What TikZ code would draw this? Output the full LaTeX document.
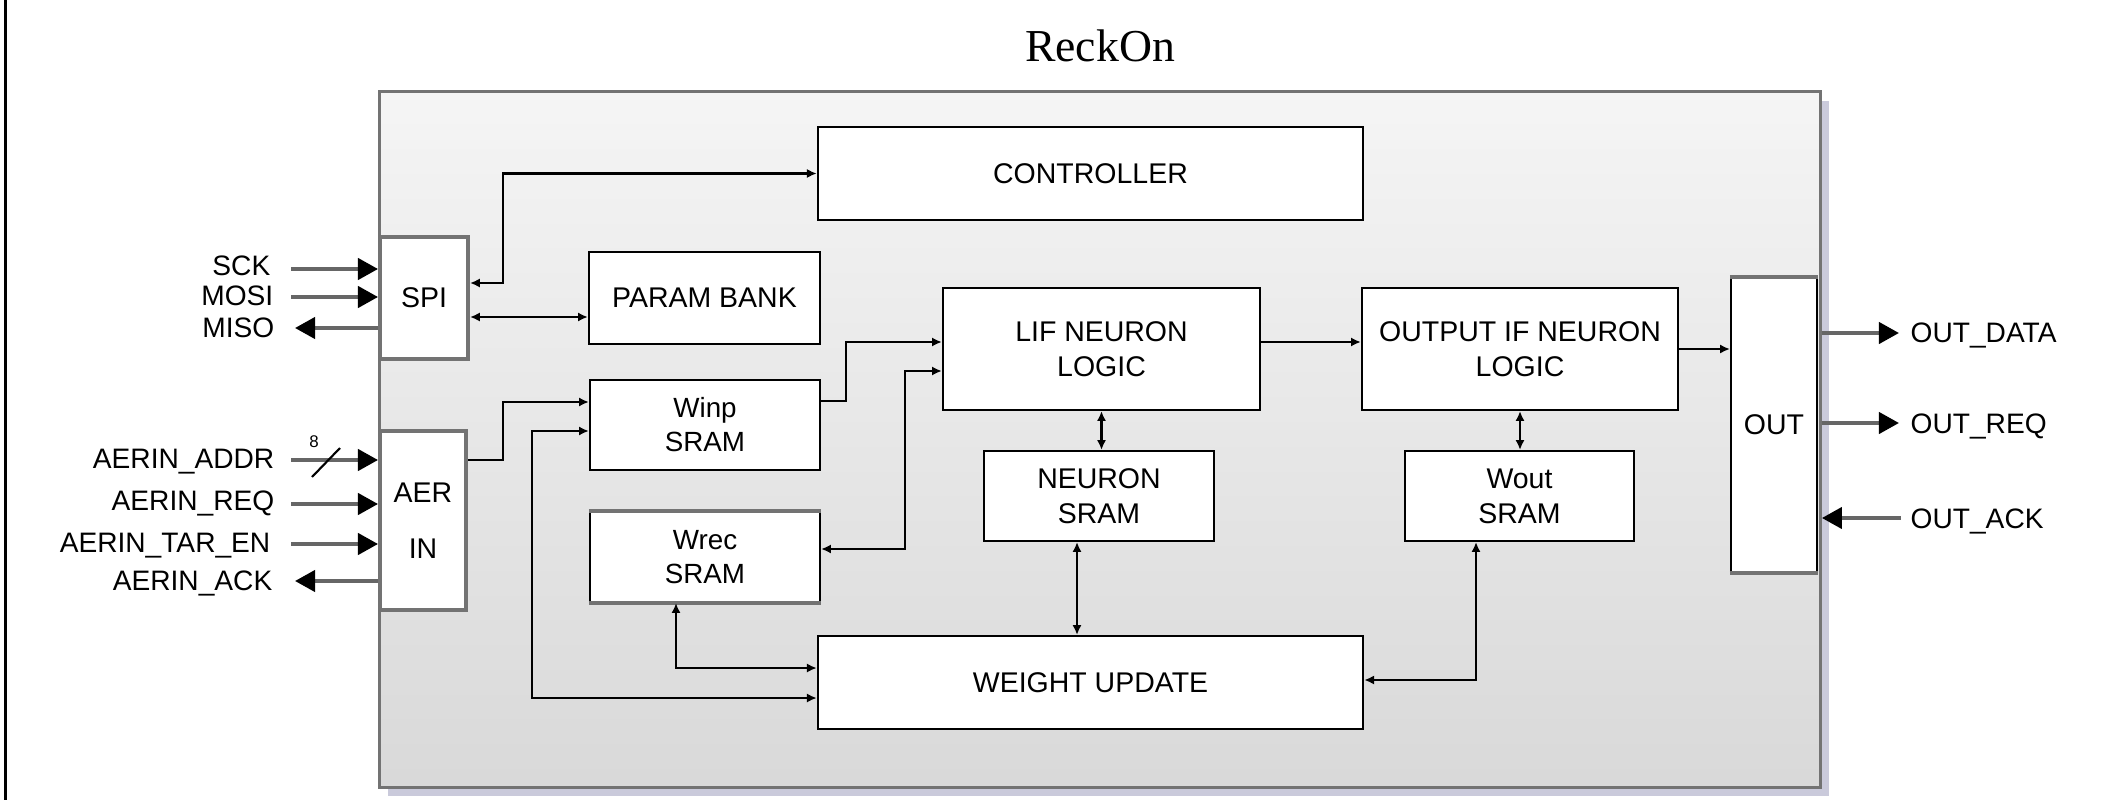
\documentclass[tikz,border=0pt]{standalone}
\usepackage{fontspec}
\setmainfont{Liberation Sans}
\newfontfamily\titlefont{Liberation Serif}
\usetikzlibrary{arrows.meta, positioning, calc, shadows}

\begin{document}
\begin{tikzpicture}[x=0.01cm, y=-0.01cm,
    chip/.style={draw=black!55, line width=0.85pt, top color=black!4, bottom color=black!15,
        drop shadow={shadow xshift=2.5pt, shadow yshift=-2.5pt, opacity=0.35, fill=gray!80!blue}},
    block/.style={draw=black, line width=0.6pt, fill=white, align=center, inner sep=0pt,
        font=\fontsize{8.1}{10}\selectfont},
    memblock/.style={block, font=\fontsize{7.9}{9.7}\selectfont},
    port/.style={draw=black!55, line width=1.1pt, fill=white, align=center, inner sep=0pt,
        font=\fontsize{8.1}{16}\selectfont},
    rim/.style={draw=black!55, line width=1pt},
    link/.style={line width=0.6pt, {Latex[length=2.8pt,width=2.6pt]}-{Latex[length=2.8pt,width=2.6pt]}},
    wire/.style={line width=0.6pt, -{Latex[length=2.8pt,width=2.6pt]}},
    pin/.style={draw=black!60, line width=1.1pt, -{Triangle[length=5.7pt,width=6pt,color=black]}},
    sig/.style={inner sep=0pt, font=\fontsize{8}{10}\selectfont},
]
    \useasboundingbox (0,0) rectangle (2111,800);
    \draw[line width=0.9pt] (5.5,0) -- (5.5,800);

    % chip outline and title
    \node[chip, minimum width=14.4cm, minimum height=6.95cm] (chip) at (1100,439.5) {};
    \node[font=\titlefont\fontsize{13}{15}\selectfont] (title) at (1100,46) {ReckOn};

    % interface blocks
    \node[port, minimum width=0.88cm, minimum height=1.22cm] (spi) at (424,298) {SPI};
    \node[port, minimum width=0.86cm, minimum height=1.79cm] (aer) at (423,520.5) {AER\\IN};
    \node[block, minimum width=0.86cm, minimum height=2.94cm] (out) at (1774,425) {OUT};
    \draw[rim] (out.north west) -- (out.north east);
    \draw[rim] (out.south west) -- (out.south east);

    % core blocks
    \node[block, minimum width=5.45cm, minimum height=0.93cm] (ctrl) at (1090.5,173.5) {CONTROLLER};
    \node[block, minimum width=2.31cm, minimum height=0.92cm] (param) at (704.5,298) {PARAM BANK};
    \node[memblock, minimum width=2.3cm, minimum height=0.9cm] (winp) at (705,425) {Winp\\SRAM};
    \node[memblock, minimum width=2.3cm, minimum height=0.9cm] (wrec) at (705,557) {Wrec\\SRAM};
    \draw[rim] (wrec.north west) -- (wrec.north east);
    \draw[rim] (wrec.south west) -- (wrec.south east);
    \node[block, minimum width=3.17cm, minimum height=1.22cm] (lif) at (1101.5,349) {LIF NEURON\\LOGIC};
    \node[block, minimum width=2.3cm, minimum height=0.9cm] (nsram) at (1099,496) {NEURON\\SRAM};
    \node[block, minimum width=3.16cm, minimum height=1.22cm] (outif) at (1520,349) {OUTPUT IF NEURON\\LOGIC};
    \node[block, minimum width=2.29cm, minimum height=0.9cm] (wout) at (1519.5,496) {Wout\\SRAM};
    \node[block, minimum width=5.45cm, minimum height=0.93cm] (wu) at (1090.5,682.5) {WEIGHT UPDATE};

    % internal buses
    \draw[link] ($(spi.east)+(0,-15)$) -| ($(ctrl.west)+(-314,0)$) -- (ctrl.west);
    \draw[link] ($(spi.east)+(0,19)$) -- ($(param.west)+(0,19)$);
    \draw[wire] ($(aer.east)+(0,-60.5)$) -| ($(winp.west)+(-86,-23)$) -- ($(winp.west)+(0,-23)$);
    \draw[link] ($(wu.west)+(0,15.5)$) -| ($(winp.west)+(-57,6)$) -- ($(winp.west)+(0,6)$);
    \draw[link] ($(wu.west)+(0,-14.5)$) -| ($(wrec.south)+(-29,0)$);
    \draw[wire] ($(winp.east)+(0,-24)$) -| ($(lif.west)+(-96,-7)$) -- ($(lif.west)+(0,-7)$);
    \draw[link] ($(lif.west)+(0,22)$) -| ($(wrec.east)+(84,-8)$) -- ($(wrec.east)+(0,-8)$);
    \draw[wire] ($(lif.east)+(0,-7)$) -- ($(outif.west)+(0,-7)$);
    \draw[link] (lif.south) -- (lif.south |- nsram.north);
    \coordinate (nsram-wu) at ($(nsram.south)+(-22,0)$);
    \draw[link] (nsram-wu) -- (nsram-wu |- wu.north);
    \draw[link] (outif.south) -- (outif.south |- wout.north);
    \draw[link] ($(wout.south)+(-43.5,0)$) |- ($(wu.east)+(0,-2.5)$);
    \draw[wire] (outif.east) -- (outif.east -| out.west);

    % SPI pins
    \node[sig, anchor=base east] (sck) at (271,275) {SCK};
    \node[sig, anchor=base east] (mosi) at (274,305) {MOSI};
    \node[sig, anchor=base east] (miso) at (275,337) {MISO};
    \coordinate (sck-in) at (291,269);
    \coordinate (mosi-in) at (291,297);
    \coordinate (miso-out) at (295,328);
    \draw[pin] (sck-in) -- (sck-in -| spi.west);
    \draw[pin] (mosi-in) -- (mosi-in -| spi.west);
    \draw[pin] (miso-out -| spi.west) -- (miso-out);

    % AER input pins
    \node[sig, anchor=base east] (addr) at (275,468) {AERIN\_ADDR};
    \node[sig, anchor=base east] (req) at (275,510) {AERIN\_REQ};
    \node[sig, anchor=base east] (taren) at (271,552) {AERIN\_TAR\_EN};
    \node[sig, anchor=base east] (ack) at (273,590) {AERIN\_ACK};
    \coordinate (addr-in) at (291,460);
    \coordinate (req-in) at (291,504);
    \coordinate (taren-in) at (291,544);
    \coordinate (ack-out) at (295,581);
    \draw[pin] (addr-in) -- (addr-in -| aer.west);
    \draw[pin] (req-in) -- (req-in -| aer.west);
    \draw[pin] (taren-in) -- (taren-in -| aer.west);
    \draw[pin] (ack-out -| aer.west) -- (ack-out);
    \draw[line width=0.6pt] (312,477) -- (340,448);
    \node[inner sep=0pt, font=\fontsize{4.8}{5}\selectfont] (addrwidth) at (314,442) {8};

    % output pins
    \node[sig, anchor=base west] (odata) at (1910,342) {OUT\_DATA};
    \node[sig, anchor=base west] (oreq) at (1910,433) {OUT\_REQ};
    \node[sig, anchor=base west] (oack) at (1910,528) {OUT\_ACK};
    \coordinate (data-out) at (1899,333);
    \coordinate (req-out) at (1899,423);
    \coordinate (ack-in) at (1901,518);
    \draw[pin] (data-out -| chip.east) -- (data-out);
    \draw[pin] (req-out -| chip.east) -- (req-out);
    \draw[pin] (ack-in) -- (ack-in -| chip.east);
\end{tikzpicture}
\end{document}
